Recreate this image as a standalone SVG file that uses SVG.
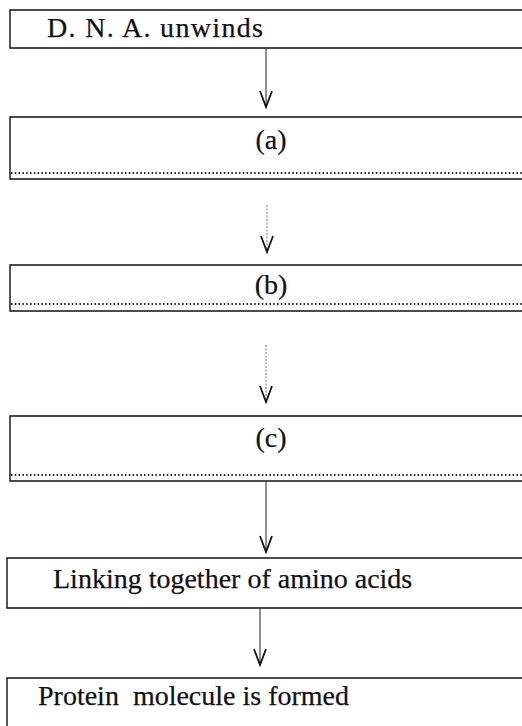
<svg xmlns="http://www.w3.org/2000/svg" width="522" height="726" viewBox="0 0 522 726">
<style>
.box{fill:none;stroke:#111;stroke-width:1.4}
.t{font-family:"Liberation Serif","Times New Roman",serif;font-size:28px;fill:#111;stroke:#111;stroke-width:0.25}
.dots{stroke:#222;stroke-width:1.8;stroke-dasharray:1.5 2.3;fill:none}
.c{stroke:#222;stroke-width:1;fill:none}
.cd{stroke:#777;stroke-width:1;stroke-dasharray:2 1.5;fill:none}
.ah{stroke:#111;stroke-width:1.8;fill:none}
</style>
<g id="n1">
<path class="box" d="M530 10 H10 V48 H530"/>
<text class="t" x="47" y="37" textLength="216" lengthAdjust="spacing">D. N. A. unwinds</text>
</g>
<g id="n2">
<path class="box" d="M530 117 H10 V179 H530"/>
<text class="t" x="271" y="149" text-anchor="middle">(a)</text>
<line class="dots" x1="11" y1="173" x2="522" y2="173"/>
</g>
<g id="n3">
<path class="box" d="M530 265 H10 V311 H530"/>
<text class="t" x="271" y="294" text-anchor="middle">(b)</text>
<line class="dots" x1="11" y1="304" x2="522" y2="304"/>
</g>
<g id="n4">
<path class="box" d="M530 416 H10 V481 H530"/>
<text class="t" x="271" y="447" text-anchor="middle">(c)</text>
<line class="dots" x1="11" y1="475" x2="522" y2="475"/>
</g>
<g id="n5">
<path class="box" d="M530 558 H7 V608 H530"/>
<text class="t" x="53" y="588">Linking together of amino acids</text>
</g>
<g id="n6">
<path class="box" d="M530 678 H7 V730"/>
<text class="t" x="38" y="705" xml:space="preserve">Protein  molecule is formed</text>
</g>
<g id="connectors">
<line class="c" x1="266" y1="48" x2="266" y2="105"/>
<path class="ah" d="M260 91 L266 107 L272 91"/>
<line class="cd" x1="267" y1="205" x2="267" y2="250"/>
<path class="ah" d="M261 236 L267 252 L273 236"/>
<line class="cd" x1="266" y1="345" x2="266" y2="400"/>
<path class="ah" d="M260 386 L266 402 L272 386"/>
<line class="c" x1="266" y1="481" x2="266" y2="550" stroke="#666"/>
<path class="ah" d="M260 536 L266 552 L272 536"/>
<line class="c" x1="260" y1="608" x2="260" y2="663"/>
<path class="ah" d="M254 649 L260 665 L266 649"/>
</g>
</svg>
